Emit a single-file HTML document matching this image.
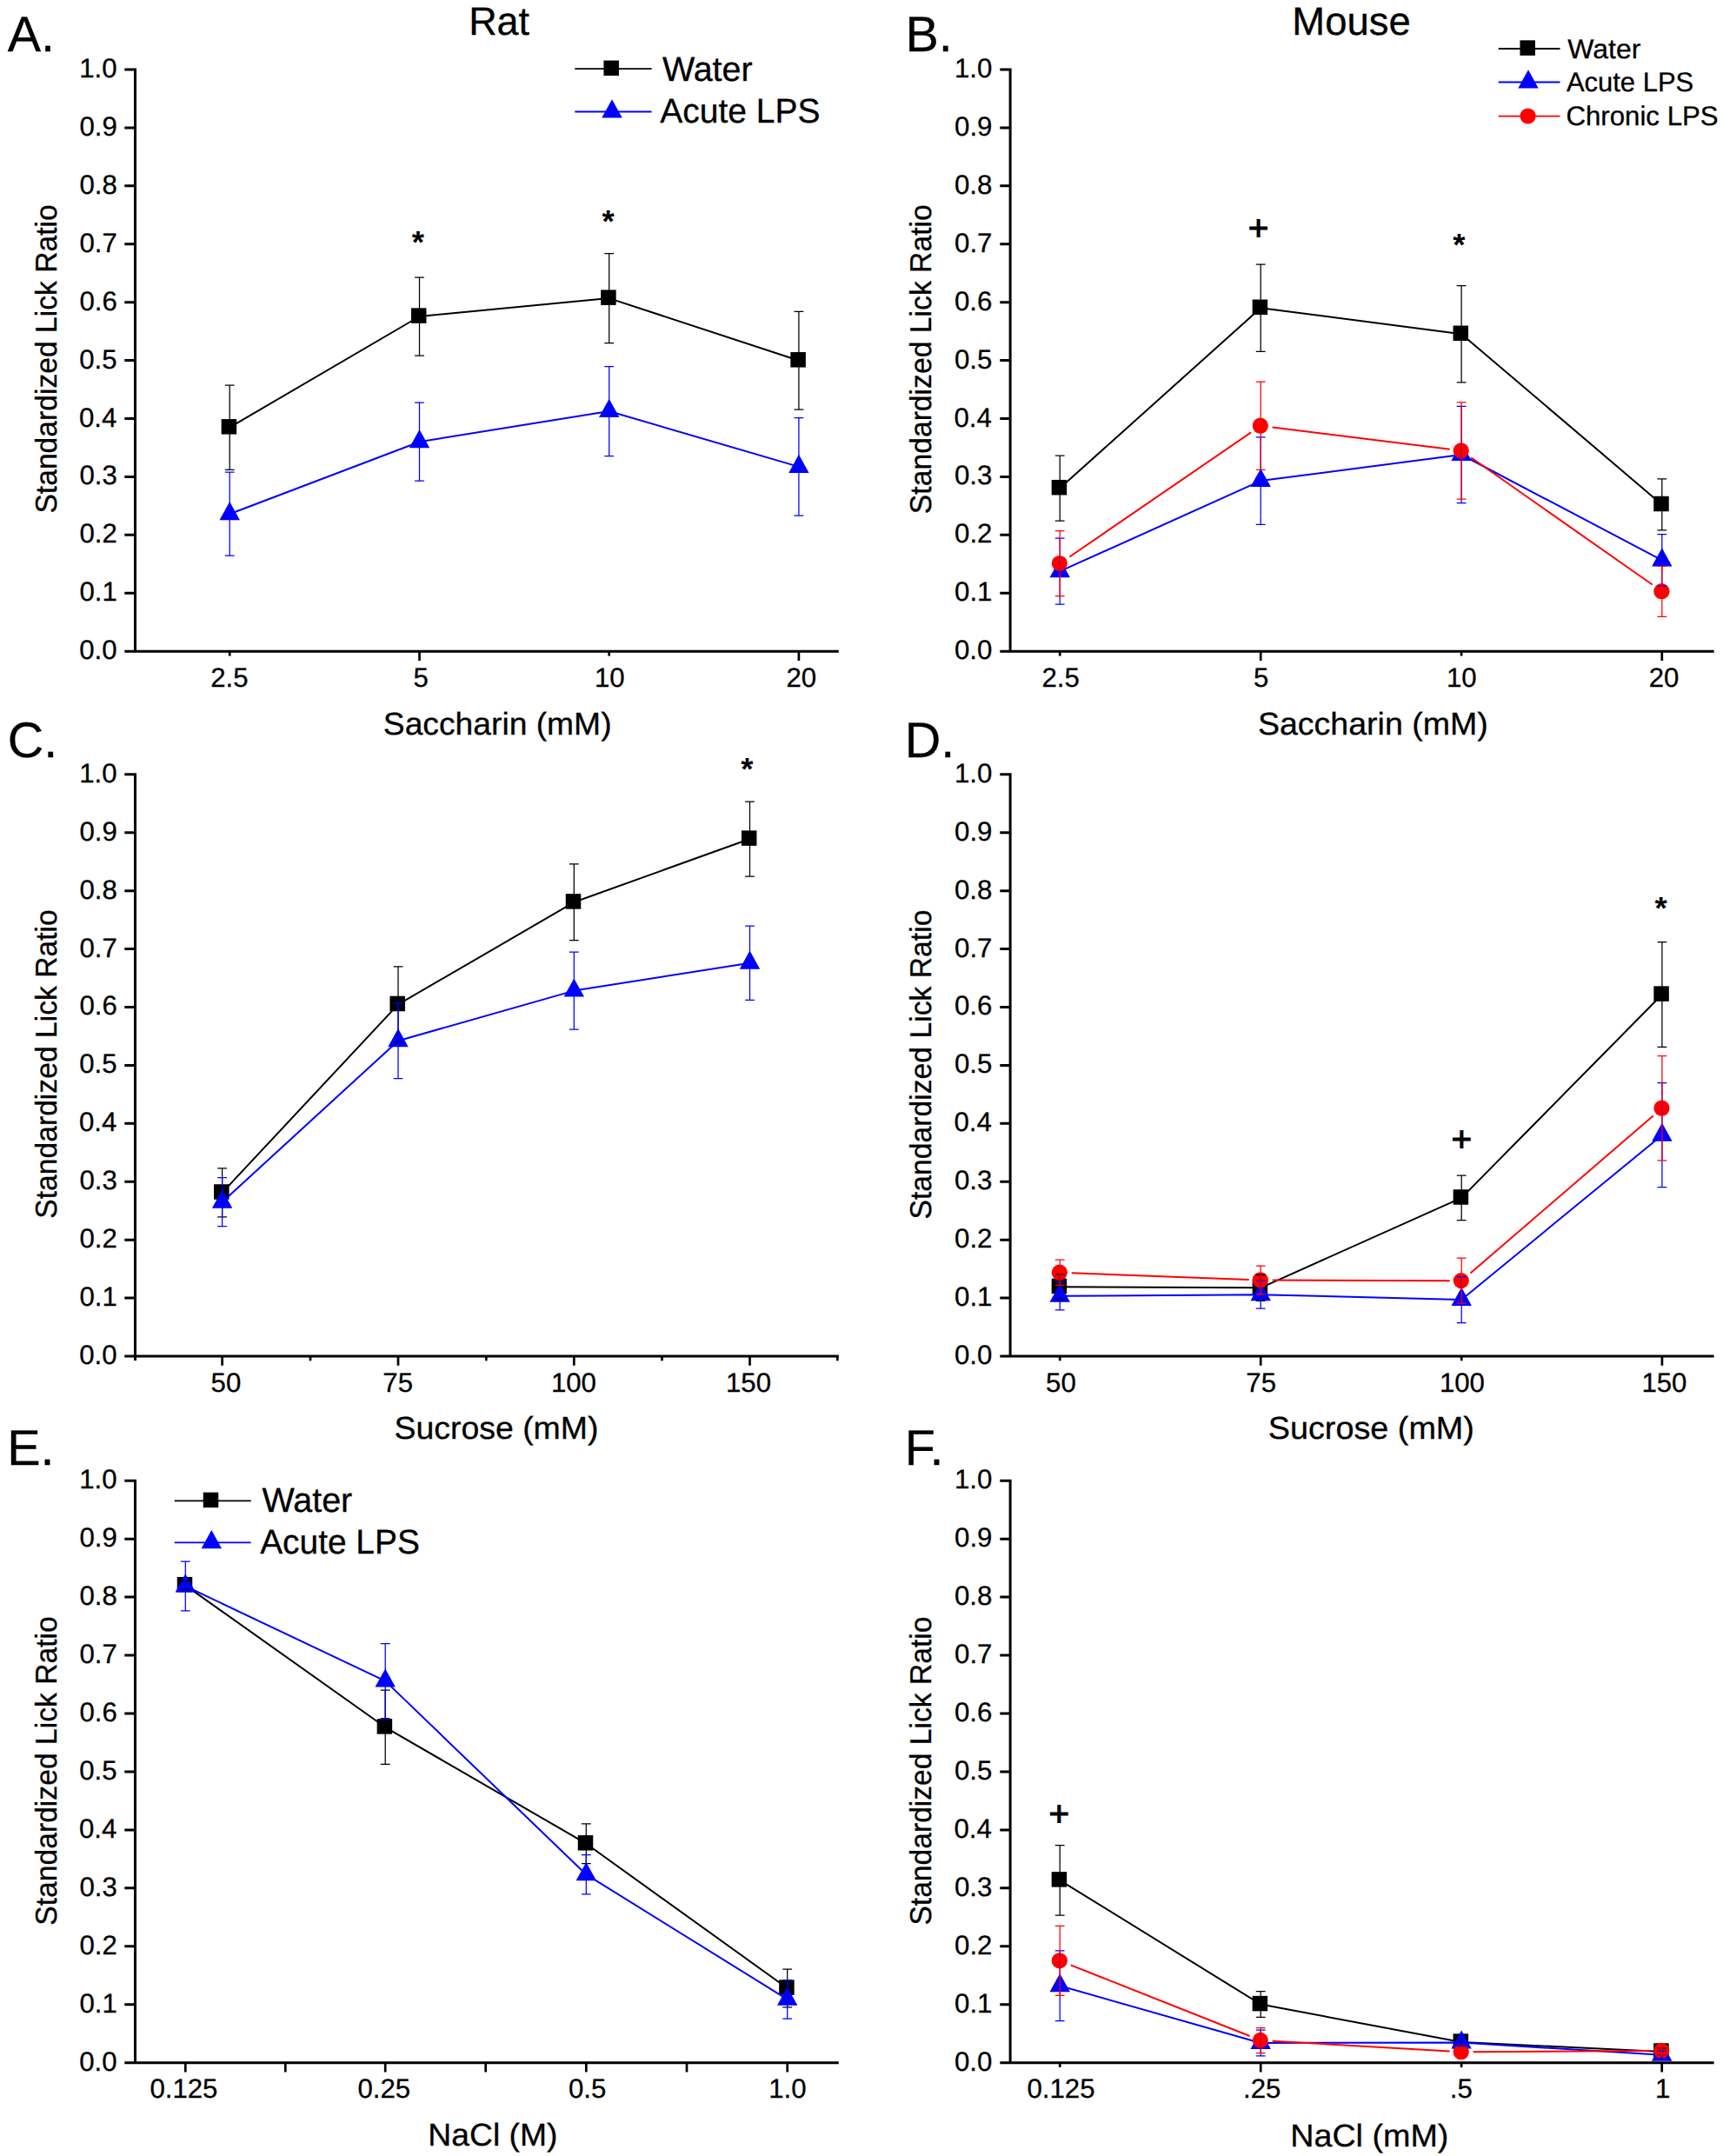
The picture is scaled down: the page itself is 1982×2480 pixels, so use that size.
<!DOCTYPE html>
<html lang="en"><head><meta charset="utf-8"><title>Standardized Lick Ratio figure</title>
<style>html,body{margin:0;padding:0;background:#fff}svg{display:block}text{stroke:#000;stroke-width:.3px}</style></head>
<body>
<svg width="1982" height="2480" viewBox="0 0 1982 2480" font-family='"Liberation Sans", Arial, sans-serif' fill="#000" text-rendering="geometricPrecision">
<rect width="1982" height="2480" fill="#fff"/>
<path d="M155.5 78.5V750.7M143.3 749.2H964.8M143.3 80H155.5M143.3 146.92H155.5M143.3 213.84H155.5M143.3 280.76H155.5M143.3 347.68H155.5M143.3 414.6H155.5M143.3 481.52H155.5M143.3 548.44H155.5M143.3 615.36H155.5M143.3 682.28H155.5" fill="none" stroke="#000" stroke-width="3.0"/>
<path d="M264.2 749.2v5.2M482.5 749.2v10.8M700.7 749.2v5.2M918.9 749.2v10.8" fill="none" stroke="#000" stroke-width="2.7"/>
<text x="91.28" y="89" font-size="31.2">1.0</text>
<text x="91.53" y="155.92" font-size="31.2">0.9</text>
<text x="91.4" y="222.84" font-size="31.2">0.8</text>
<text x="91.53" y="289.76" font-size="31.2">0.7</text>
<text x="91.4" y="356.68" font-size="31.2">0.6</text>
<text x="91.28" y="423.6" font-size="31.2">0.5</text>
<text x="90.9" y="490.52" font-size="31.2">0.4</text>
<text x="91.4" y="557.44" font-size="31.2">0.3</text>
<text x="91.53" y="624.36" font-size="31.2">0.2</text>
<text x="91.53" y="691.28" font-size="31.2">0.1</text>
<text x="91.28" y="758.2" font-size="31.2">0.0</text>
<text x="242.19" y="789.9" font-size="31.2">2.5</text>
<text x="475.46" y="789.9" font-size="31.2">5</text>
<text x="683.96" y="789.9" font-size="31.2">10</text>
<text x="904.5" y="789.9" font-size="31.2">20</text>
<path d="M264.2 491.7L482.5 364L700.7 343.1L918.9 414.7" fill="none" stroke="#000" stroke-width="2.0" stroke-linejoin="round"/>
<rect x="254.65" y="482.05" width="17.5" height="17.5" fill="#000"/>
<rect x="472.95" y="354.35" width="17.5" height="17.5" fill="#000"/>
<rect x="691.15" y="333.45" width="17.5" height="17.5" fill="#000"/>
<rect x="909.35" y="405.05" width="17.5" height="17.5" fill="#000"/>
<path d="M264.2 591.2L482.5 508.2L700.7 473L918.9 536.9" fill="none" stroke="#0000ff" stroke-width="2.0" stroke-linejoin="round"/>
<path d="M264.2 577L275.9 598.2L252.5 598.2Z" fill="#0000ff"/>
<path d="M482.5 494L494.2 515.2L470.8 515.2Z" fill="#0000ff"/>
<path d="M700.7 458.8L712.4 480L689 480Z" fill="#0000ff"/>
<path d="M918.9 522.7L930.6 543.9L907.2 543.9Z" fill="#0000ff"/>
<path d="M264.2 443.1V540.3M258.8 443.1h10.8M258.8 540.3h10.8M482.5 319V409M477.1 319h10.8M477.1 409h10.8M700.7 291.6V394.6M695.3 291.6h10.8M695.3 394.6h10.8M918.9 358.4V471M913.5 358.4h10.8M913.5 471h10.8" fill="none" stroke="#000" stroke-width="1.25"/>
<path d="M264.2 543.2V639.2M258.8 543.2h10.8M258.8 639.2h10.8M482.5 463.2V553.2M477.1 463.2h10.8M477.1 553.2h10.8M700.7 421.5V524.5M695.3 421.5h10.8M695.3 524.5h10.8M918.9 480.7V593.1M913.5 480.7h10.8M913.5 593.1h10.8" fill="none" stroke="#0000ff" stroke-width="1.25"/>
<path d="M1162.1 78.5V750.7M1150.3 749.2H1971.6M1150.3 80H1162.1M1150.3 146.92H1162.1M1150.3 213.84H1162.1M1150.3 280.76H1162.1M1150.3 347.68H1162.1M1150.3 414.6H1162.1M1150.3 481.52H1162.1M1150.3 548.44H1162.1M1150.3 615.36H1162.1M1150.3 682.28H1162.1" fill="none" stroke="#000" stroke-width="3.0"/>
<path d="M1219.2 749.2v5.2M1450.2 749.2v10.8M1681.1 749.2v5.2M1911.8 749.2v10.8" fill="none" stroke="#000" stroke-width="2.7"/>
<text x="1097.88" y="89" font-size="31.2">1.0</text>
<text x="1098.12" y="155.92" font-size="31.2">0.9</text>
<text x="1098" y="222.84" font-size="31.2">0.8</text>
<text x="1098.12" y="289.76" font-size="31.2">0.7</text>
<text x="1098" y="356.68" font-size="31.2">0.6</text>
<text x="1097.88" y="423.6" font-size="31.2">0.5</text>
<text x="1097.5" y="490.52" font-size="31.2">0.4</text>
<text x="1098" y="557.44" font-size="31.2">0.3</text>
<text x="1098.12" y="624.36" font-size="31.2">0.2</text>
<text x="1098.12" y="691.28" font-size="31.2">0.1</text>
<text x="1097.88" y="758.2" font-size="31.2">0.0</text>
<text x="1198.49" y="789.9" font-size="31.2">2.5</text>
<text x="1441.91" y="789.9" font-size="31.2">5</text>
<text x="1663.96" y="789.9" font-size="31.2">10</text>
<text x="1896.7" y="789.9" font-size="31.2">20</text>
<path d="M1219.2 561.6L1450.2 354.2L1681.1 384.2L1911.8 580.4" fill="none" stroke="#000" stroke-width="2.0" stroke-linejoin="round"/>
<rect x="1209.65" y="551.95" width="17.5" height="17.5" fill="#000"/>
<rect x="1440.65" y="344.55" width="17.5" height="17.5" fill="#000"/>
<rect x="1671.55" y="374.55" width="17.5" height="17.5" fill="#000"/>
<rect x="1902.25" y="570.75" width="17.5" height="17.5" fill="#000"/>
<path d="M1219.2 657.2L1450.2 553.1L1681.1 523L1911.8 644.4" fill="none" stroke="#0000ff" stroke-width="2.0" stroke-linejoin="round"/>
<path d="M1219.2 643L1230.9 664.2L1207.5 664.2Z" fill="#0000ff"/>
<path d="M1450.2 538.9L1461.9 560.1L1438.5 560.1Z" fill="#0000ff"/>
<path d="M1681.1 508.8L1692.8 530L1669.4 530Z" fill="#0000ff"/>
<path d="M1911.8 630.2L1923.5 651.4L1900.1 651.4Z" fill="#0000ff"/>
<path d="M1230.34 640.47L1439.06 497.43M1463.6 491.47L1667.7 516.83M1692.15 526.25L1900.75 672.55" fill="none" stroke="#ff0000" stroke-width="2.0"/>
<circle cx="1218.8" cy="648" r="9.1" fill="#ff0000"/>
<circle cx="1449.8" cy="489.7" r="9.1" fill="#ff0000"/>
<circle cx="1680.7" cy="518.4" r="9.1" fill="#ff0000"/>
<circle cx="1911.4" cy="680.2" r="9.1" fill="#ff0000"/>
<path d="M1219.2 524.1V599.1M1213.8 524.1h10.8M1213.8 599.1h10.8M1450.2 304.1V404.3M1444.8 304.1h10.8M1444.8 404.3h10.8M1681.1 328.6V439.8M1675.7 328.6h10.8M1675.7 439.8h10.8M1911.8 550.9V609.9M1906.4 550.9h10.8M1906.4 609.9h10.8" fill="none" stroke="#000" stroke-width="1.25"/>
<path d="M1219.2 619.2V695.2M1213.8 619.2h10.8M1213.8 695.2h10.8M1450.2 502.8V603.4M1444.8 502.8h10.8M1444.8 603.4h10.8M1681.1 467.4V578.6M1675.7 467.4h10.8M1675.7 578.6h10.8M1911.8 614.7V674.1M1906.4 614.7h10.8M1906.4 674.1h10.8" fill="none" stroke="#0000ff" stroke-width="1.25"/>
<path d="M1219.2 610.7V685.5M1213.8 610.7h10.8M1213.8 685.5h10.8M1450.2 439.2V540.4M1444.8 439.2h10.8M1444.8 540.4h10.8M1681.1 462.8V574.2M1675.7 462.8h10.8M1675.7 574.2h10.8M1911.8 651.3V709.3M1906.4 651.3h10.8M1906.4 709.3h10.8" fill="none" stroke="#ff0000" stroke-width="1.25"/>
<path d="M155.5 889.3V1565M143.3 1560H964.8M143.3 890.8H155.5M143.3 957.72H155.5M143.3 1024.64H155.5M143.3 1091.56H155.5M143.3 1158.48H155.5M143.3 1225.4H155.5M143.3 1292.32H155.5M143.3 1359.24H155.5M143.3 1426.16H155.5M143.3 1493.08H155.5" fill="none" stroke="#000" stroke-width="3.0"/>
<path d="M255.6 1560v10.8M458 1560v10.8M660.3 1560v10.8M862.5 1560v10.8M357 1560v5.2M559.3 1560v5.2M761.5 1560v5.2M963.3 1560v5.2" fill="none" stroke="#000" stroke-width="2.7"/>
<text x="91.28" y="899.8" font-size="31.2">1.0</text>
<text x="91.53" y="966.72" font-size="31.2">0.9</text>
<text x="91.4" y="1033.64" font-size="31.2">0.8</text>
<text x="91.53" y="1100.56" font-size="31.2">0.7</text>
<text x="91.4" y="1167.48" font-size="31.2">0.6</text>
<text x="91.28" y="1234.4" font-size="31.2">0.5</text>
<text x="90.9" y="1301.32" font-size="31.2">0.4</text>
<text x="91.4" y="1368.24" font-size="31.2">0.3</text>
<text x="91.53" y="1435.16" font-size="31.2">0.2</text>
<text x="91.53" y="1502.08" font-size="31.2">0.1</text>
<text x="91.28" y="1569" font-size="31.2">0.0</text>
<text x="242.62" y="1600.7" font-size="31.2">50</text>
<text x="440.34" y="1600.7" font-size="31.2">75</text>
<text x="633.88" y="1600.7" font-size="31.2">100</text>
<text x="834.98" y="1600.7" font-size="31.2">150</text>
<path d="M255.6 1371.9L458 1155.4L660.3 1037.8L862.5 965" fill="none" stroke="#000" stroke-width="2.0" stroke-linejoin="round"/>
<rect x="246.05" y="1362.25" width="17.5" height="17.5" fill="#000"/>
<rect x="448.45" y="1145.75" width="17.5" height="17.5" fill="#000"/>
<rect x="650.75" y="1028.15" width="17.5" height="17.5" fill="#000"/>
<rect x="852.95" y="955.35" width="17.5" height="17.5" fill="#000"/>
<path d="M255.6 1382.7L458 1197.2L660.3 1139.6L862.5 1107.7" fill="none" stroke="#0000ff" stroke-width="2.0" stroke-linejoin="round"/>
<path d="M255.6 1368.5L267.3 1389.7L243.9 1389.7Z" fill="#0000ff"/>
<path d="M458 1183L469.7 1204.2L446.3 1204.2Z" fill="#0000ff"/>
<path d="M660.3 1125.4L672 1146.6L648.6 1146.6Z" fill="#0000ff"/>
<path d="M862.5 1093.5L874.2 1114.7L850.8 1114.7Z" fill="#0000ff"/>
<path d="M255.6 1343.9V1399.9M250.2 1343.9h10.8M250.2 1399.9h10.8M458 1111.8V1199M452.6 1111.8h10.8M452.6 1199h10.8M660.3 993.9V1081.7M654.9 993.9h10.8M654.9 1081.7h10.8M862.5 922V1008M857.1 922h10.8M857.1 1008h10.8" fill="none" stroke="#000" stroke-width="1.25"/>
<path d="M255.6 1354.7V1410.7M250.2 1354.7h10.8M250.2 1410.7h10.8M458 1153.8V1240.6M452.6 1153.8h10.8M452.6 1240.6h10.8M660.3 1095.1V1184.1M654.9 1095.1h10.8M654.9 1184.1h10.8M862.5 1065V1150.4M857.1 1065h10.8M857.1 1150.4h10.8" fill="none" stroke="#0000ff" stroke-width="1.25"/>
<path d="M1162.1 889.3V1561.5M1150.3 1560H1971.6M1150.3 890.8H1162.1M1150.3 957.72H1162.1M1150.3 1024.64H1162.1M1150.3 1091.56H1162.1M1150.3 1158.48H1162.1M1150.3 1225.4H1162.1M1150.3 1292.32H1162.1M1150.3 1359.24H1162.1M1150.3 1426.16H1162.1M1150.3 1493.08H1162.1" fill="none" stroke="#000" stroke-width="3.0"/>
<path d="M1219.2 1560v5.2M1450.2 1560v10.8M1681.2 1560v5.2M1911.9 1560v10.8" fill="none" stroke="#000" stroke-width="2.7"/>
<text x="1097.88" y="899.8" font-size="31.2">1.0</text>
<text x="1098.12" y="966.72" font-size="31.2">0.9</text>
<text x="1098" y="1033.64" font-size="31.2">0.8</text>
<text x="1098.12" y="1100.56" font-size="31.2">0.7</text>
<text x="1098" y="1167.48" font-size="31.2">0.6</text>
<text x="1097.88" y="1234.4" font-size="31.2">0.5</text>
<text x="1097.5" y="1301.32" font-size="31.2">0.4</text>
<text x="1098" y="1368.24" font-size="31.2">0.3</text>
<text x="1098.12" y="1435.16" font-size="31.2">0.2</text>
<text x="1098.12" y="1502.08" font-size="31.2">0.1</text>
<text x="1097.88" y="1569" font-size="31.2">0.0</text>
<text x="1203.12" y="1600.7" font-size="31.2">50</text>
<text x="1433.34" y="1600.7" font-size="31.2">75</text>
<text x="1655.88" y="1600.7" font-size="31.2">100</text>
<text x="1888.38" y="1600.7" font-size="31.2">150</text>
<path d="M1219.2 1480.3L1450.2 1481.3L1681.2 1377.9L1911.9 1144" fill="none" stroke="#000" stroke-width="2.0" stroke-linejoin="round"/>
<rect x="1209.65" y="1470.65" width="17.5" height="17.5" fill="#000"/>
<rect x="1440.65" y="1471.65" width="17.5" height="17.5" fill="#000"/>
<rect x="1671.65" y="1368.25" width="17.5" height="17.5" fill="#000"/>
<rect x="1902.35" y="1134.35" width="17.5" height="17.5" fill="#000"/>
<path d="M1219.2 1490.8L1450.2 1489.2L1681.2 1495L1911.9 1305.7" fill="none" stroke="#0000ff" stroke-width="2.0" stroke-linejoin="round"/>
<path d="M1219.2 1476.6L1230.9 1497.8L1207.5 1497.8Z" fill="#0000ff"/>
<path d="M1450.2 1475L1461.9 1496.2L1438.5 1496.2Z" fill="#0000ff"/>
<path d="M1681.2 1480.8L1692.9 1502L1669.5 1502Z" fill="#0000ff"/>
<path d="M1911.9 1291.5L1923.6 1312.7L1900.2 1312.7Z" fill="#0000ff"/>
<path d="M1232.69 1464.3L1436.71 1471.9M1463.7 1472.45L1667.7 1473.15M1691.44 1464.4L1901.66 1283.6" fill="none" stroke="#ff0000" stroke-width="2.0"/>
<circle cx="1218.8" cy="1463.7" r="9.1" fill="#ff0000"/>
<circle cx="1449.8" cy="1472.3" r="9.1" fill="#ff0000"/>
<circle cx="1680.8" cy="1473.1" r="9.1" fill="#ff0000"/>
<circle cx="1911.5" cy="1274.7" r="9.1" fill="#ff0000"/>
<path d="M1219.2 1465.8V1494.8M1213.8 1465.8h10.8M1213.8 1494.8h10.8M1450.2 1466.3V1496.3M1444.8 1466.3h10.8M1444.8 1496.3h10.8M1681.2 1352.2V1403.6M1675.8 1352.2h10.8M1675.8 1403.6h10.8M1911.9 1083.6V1204.4M1906.5 1083.6h10.8M1906.5 1204.4h10.8" fill="none" stroke="#000" stroke-width="1.25"/>
<path d="M1219.2 1474.8V1506.8M1213.8 1474.8h10.8M1213.8 1506.8h10.8M1450.2 1473.2V1505.2M1444.8 1473.2h10.8M1444.8 1505.2h10.8M1681.2 1468.5V1521.5M1675.8 1468.5h10.8M1675.8 1521.5h10.8M1911.9 1245.7V1365.7M1906.5 1245.7h10.8M1906.5 1365.7h10.8" fill="none" stroke="#0000ff" stroke-width="1.25"/>
<path d="M1219.2 1449.2V1478.4M1213.8 1449.2h10.8M1213.8 1478.4h10.8M1450.2 1456.1V1488.7M1444.8 1456.1h10.8M1444.8 1488.7h10.8M1681.2 1447.2V1499.2M1675.8 1447.2h10.8M1675.8 1499.2h10.8M1911.9 1214.7V1334.9M1906.5 1214.7h10.8M1906.5 1334.9h10.8" fill="none" stroke="#ff0000" stroke-width="1.25"/>
<path d="M155.5 1701.7V2374.2M143.3 2372.7H964.8M143.3 1703.2H155.5M143.3 1770.15H155.5M143.3 1837.1H155.5M143.3 1904.05H155.5M143.3 1971H155.5M143.3 2037.95H155.5M143.3 2104.9H155.5M143.3 2171.85H155.5M143.3 2238.8H155.5M143.3 2305.75H155.5" fill="none" stroke="#000" stroke-width="3.0"/>
<path d="M213.3 2372.7v10.8M443.2 2372.7v10.8M674.3 2372.7v10.8M905.7 2372.7v10.8M328.3 2372.7v10.8M558.7 2372.7v10.8M790 2372.7v10.8" fill="none" stroke="#000" stroke-width="2.7"/>
<text x="91.28" y="1712.2" font-size="31.2">1.0</text>
<text x="91.53" y="1779.15" font-size="31.2">0.9</text>
<text x="91.4" y="1846.1" font-size="31.2">0.8</text>
<text x="91.53" y="1913.05" font-size="31.2">0.7</text>
<text x="91.4" y="1980" font-size="31.2">0.6</text>
<text x="91.28" y="2046.95" font-size="31.2">0.5</text>
<text x="90.9" y="2113.9" font-size="31.2">0.4</text>
<text x="91.4" y="2180.85" font-size="31.2">0.3</text>
<text x="91.53" y="2247.8" font-size="31.2">0.2</text>
<text x="91.53" y="2314.75" font-size="31.2">0.1</text>
<text x="91.28" y="2381.7" font-size="31.2">0.0</text>
<text x="172.38" y="2413.4" font-size="31.2">0.125</text>
<text x="411.46" y="2413.4" font-size="31.2">0.25</text>
<text x="653.91" y="2413.4" font-size="31.2">0.5</text>
<text x="884.25" y="2413.4" font-size="31.2">1.0</text>
<path d="M213.3 1823.6L443.2 1986.8L674.3 2120.7L905.7 2287" fill="none" stroke="#000" stroke-width="2.0" stroke-linejoin="round"/>
<rect x="203.75" y="1813.95" width="17.5" height="17.5" fill="#000"/>
<rect x="433.65" y="1977.15" width="17.5" height="17.5" fill="#000"/>
<rect x="664.75" y="2111.05" width="17.5" height="17.5" fill="#000"/>
<rect x="896.15" y="2277.35" width="17.5" height="17.5" fill="#000"/>
<path d="M213.3 1824.5L443.2 1933.6L674.3 2156.2L905.7 2299.8" fill="none" stroke="#0000ff" stroke-width="2.0" stroke-linejoin="round"/>
<path d="M213.3 1810.3L225 1831.5L201.6 1831.5Z" fill="#0000ff"/>
<path d="M443.2 1919.4L454.9 1940.6L431.5 1940.6Z" fill="#0000ff"/>
<path d="M674.3 2142L686 2163.2L662.6 2163.2Z" fill="#0000ff"/>
<path d="M905.7 2285.6L917.4 2306.8L894 2306.8Z" fill="#0000ff"/>
<path d="M213.3 1818.6V1828.6M207.9 1818.6h10.8M207.9 1828.6h10.8M443.2 1944.2V2029.4M437.8 1944.2h10.8M437.8 2029.4h10.8M674.3 2097.9V2143.5M668.9 2097.9h10.8M668.9 2143.5h10.8M905.7 2265.2V2308.8M900.3 2265.2h10.8M900.3 2308.8h10.8" fill="none" stroke="#000" stroke-width="1.25"/>
<path d="M213.3 1796.1V1852.9M207.9 1796.1h10.8M207.9 1852.9h10.8M443.2 1890.6V1976.6M437.8 1890.6h10.8M437.8 1976.6h10.8M674.3 2133.6V2178.8M668.9 2133.6h10.8M668.9 2178.8h10.8M905.7 2277.5V2322.1M900.3 2277.5h10.8M900.3 2322.1h10.8" fill="none" stroke="#0000ff" stroke-width="1.25"/>
<path d="M1162.1 1701.7V2374.2M1150.3 2372.7H1971.6M1150.3 1703.2H1162.1M1150.3 1770.15H1162.1M1150.3 1837.1H1162.1M1150.3 1904.05H1162.1M1150.3 1971H1162.1M1150.3 2037.95H1162.1M1150.3 2104.9H1162.1M1150.3 2171.85H1162.1M1150.3 2238.8H1162.1M1150.3 2305.75H1162.1" fill="none" stroke="#000" stroke-width="3.0"/>
<path d="M1219.2 2372.7v5.2M1450.2 2372.7v10.8M1681.1 2372.7v5.2M1911.7 2372.7v10.8" fill="none" stroke="#000" stroke-width="2.7"/>
<text x="1097.88" y="1712.2" font-size="31.2">1.0</text>
<text x="1098.12" y="1779.15" font-size="31.2">0.9</text>
<text x="1098" y="1846.1" font-size="31.2">0.8</text>
<text x="1098.12" y="1913.05" font-size="31.2">0.7</text>
<text x="1098" y="1980" font-size="31.2">0.6</text>
<text x="1097.88" y="2046.95" font-size="31.2">0.5</text>
<text x="1097.5" y="2113.9" font-size="31.2">0.4</text>
<text x="1098" y="2180.85" font-size="31.2">0.3</text>
<text x="1098.12" y="2247.8" font-size="31.2">0.2</text>
<text x="1098.12" y="2314.75" font-size="31.2">0.1</text>
<text x="1097.88" y="2381.7" font-size="31.2">0.0</text>
<text x="1181.47" y="2413.4" font-size="31.2">0.125</text>
<text x="1430" y="2413.4" font-size="31.2">.25</text>
<text x="1667.79" y="2413.4" font-size="31.2">.5</text>
<text x="1904.08" y="2413.4" font-size="31.2">1</text>
<path d="M1219.2 2162.8L1450.2 2305.5L1681.1 2349L1911.7 2359.9" fill="none" stroke="#000" stroke-width="2.0" stroke-linejoin="round"/>
<rect x="1209.65" y="2153.15" width="17.5" height="17.5" fill="#000"/>
<rect x="1440.65" y="2295.85" width="17.5" height="17.5" fill="#000"/>
<rect x="1671.55" y="2339.35" width="17.5" height="17.5" fill="#000"/>
<rect x="1902.15" y="2350.25" width="17.5" height="17.5" fill="#000"/>
<path d="M1219.2 2284.2L1450.2 2350L1681.1 2349.6L1911.7 2363.7" fill="none" stroke="#0000ff" stroke-width="2.0" stroke-linejoin="round"/>
<path d="M1219.2 2270L1230.9 2291.2L1207.5 2291.2Z" fill="#0000ff"/>
<path d="M1450.2 2335.8L1461.9 2357L1438.5 2357Z" fill="#0000ff"/>
<path d="M1681.1 2335.4L1692.8 2356.6L1669.4 2356.6Z" fill="#0000ff"/>
<path d="M1911.7 2349.5L1923.4 2370.7L1900 2370.7Z" fill="#0000ff"/>
<path d="M1231.75 2260.38L1437.65 2342.02M1463.68 2347.78L1667.62 2359.52M1694.6 2360.22L1898.2 2359.08" fill="none" stroke="#ff0000" stroke-width="2.0"/>
<circle cx="1218.8" cy="2255.3" r="9.1" fill="#ff0000"/>
<circle cx="1449.8" cy="2346.9" r="9.1" fill="#ff0000"/>
<circle cx="1680.7" cy="2360.2" r="9.1" fill="#ff0000"/>
<circle cx="1911.3" cy="2358.9" r="9.1" fill="#ff0000"/>
<path d="M1219.2 2122.6V2203M1213.8 2122.6h10.8M1213.8 2203h10.8M1450.2 2290.7V2320.3M1444.8 2290.7h10.8M1444.8 2320.3h10.8M1681.1 2345V2353M1675.7 2345h10.8M1675.7 2353h10.8M1911.7 2355.9V2363.9M1906.3 2355.9h10.8M1906.3 2363.9h10.8" fill="none" stroke="#000" stroke-width="1.25"/>
<path d="M1219.2 2243.8V2324.6M1213.8 2243.8h10.8M1213.8 2324.6h10.8M1450.2 2335.1V2364.9M1444.8 2335.1h10.8M1444.8 2364.9h10.8M1681.1 2345.6V2353.6M1675.7 2345.6h10.8M1675.7 2353.6h10.8M1911.7 2359.2V2368.2M1906.3 2359.2h10.8M1906.3 2368.2h10.8" fill="none" stroke="#0000ff" stroke-width="1.25"/>
<path d="M1219.2 2215.4V2295.4M1213.8 2215.4h10.8M1213.8 2295.4h10.8M1450.2 2332.5V2361.5M1444.8 2332.5h10.8M1444.8 2361.5h10.8M1681.1 2357.3V2363.3M1675.7 2357.3h10.8M1675.7 2363.3h10.8M1911.7 2354V2364M1906.3 2354h10.8M1906.3 2364h10.8" fill="none" stroke="#ff0000" stroke-width="1.25"/>
<text transform="translate(64.6 590.58) rotate(-90)" font-size="34.6" textLength="355.27" lengthAdjust="spacingAndGlyphs">Standardized Lick Ratio</text>
<text transform="translate(1071.1 591.18) rotate(-90)" font-size="34.6" textLength="355.98" lengthAdjust="spacingAndGlyphs">Standardized Lick Ratio</text>
<text transform="translate(64.6 1401.78) rotate(-90)" font-size="34.6" textLength="355.57" lengthAdjust="spacingAndGlyphs">Standardized Lick Ratio</text>
<text transform="translate(1071.1 1402.58) rotate(-90)" font-size="34.6" textLength="355.98" lengthAdjust="spacingAndGlyphs">Standardized Lick Ratio</text>
<text transform="translate(64.6 2214.78) rotate(-90)" font-size="34.6" textLength="355.57" lengthAdjust="spacingAndGlyphs">Standardized Lick Ratio</text>
<text transform="translate(1071.1 2214.58) rotate(-90)" font-size="34.6" textLength="354.97" lengthAdjust="spacingAndGlyphs">Standardized Lick Ratio</text>
<text x="440.84" y="845" font-size="36.4" textLength="262.7" lengthAdjust="spacingAndGlyphs">Saccharin (mM)</text>
<text x="1446.92" y="845" font-size="36.4" textLength="264.83" lengthAdjust="spacingAndGlyphs">Saccharin (mM)</text>
<text x="453.53" y="1655.2" font-size="36.4" textLength="234.89" lengthAdjust="spacingAndGlyphs">Sucrose (mM)</text>
<text x="1458.81" y="1655.2" font-size="36.4" textLength="237.12" lengthAdjust="spacingAndGlyphs">Sucrose (mM)</text>
<text x="492.33" y="2468.2" font-size="36.4" textLength="149.06" lengthAdjust="spacingAndGlyphs">NaCl (M)</text>
<text x="1484.19" y="2468.6" font-size="36.4" textLength="182.18" lengthAdjust="spacingAndGlyphs">NaCl (mM)</text>
<text x="8.68" y="58.8" font-size="57.5">A.</text>
<text x="1041.45" y="58.8" font-size="57.5">B.</text>
<text x="8.72" y="870.6" font-size="57.5">C.</text>
<text x="1040.65" y="870.6" font-size="57.5">D.</text>
<text x="8.25" y="1685" font-size="57.5">E.</text>
<text x="1040.65" y="1684.8" font-size="57.5">F.</text>
<text x="539.2" y="40.2" font-size="45.5" textLength="69.9" lengthAdjust="spacingAndGlyphs">Rat</text>
<text x="1486.35" y="40.2" font-size="45.5" textLength="136.41" lengthAdjust="spacingAndGlyphs">Mouse</text>
<path d="M661.3 79.2H749.6" stroke="#000" stroke-width="1.8" fill="none"/>
<rect x="694.45" y="69.55" width="17.5" height="17.5" fill="#000"/>
<text x="761.88" y="92.7" font-size="39.5" textLength="103.76" lengthAdjust="spacingAndGlyphs">Water</text>
<path d="M661.3 128.5H749.6" stroke="#0000ff" stroke-width="1.8" fill="none"/>
<path d="M704 114.3L715.7 135.5L692.3 135.5Z" fill="#0000ff"/>
<text x="759.28" y="141.4" font-size="39.5" textLength="184.29" lengthAdjust="spacingAndGlyphs">Acute LPS</text>
<path d="M200.8 1726.3H288.7" stroke="#000" stroke-width="1.8" fill="none"/>
<rect x="233.75" y="1716.65" width="17.5" height="17.5" fill="#000"/>
<text x="301.48" y="1739" font-size="39.5" textLength="103.76" lengthAdjust="spacingAndGlyphs">Water</text>
<path d="M200.8 1774.3H288.7" stroke="#0000ff" stroke-width="1.8" fill="none"/>
<path d="M243.3 1760.1L255 1781.3L231.6 1781.3Z" fill="#0000ff"/>
<text x="299.18" y="1787.3" font-size="39.5" textLength="183.69" lengthAdjust="spacingAndGlyphs">Acute LPS</text>
<path d="M1723.7 56H1794.5" stroke="#000" stroke-width="1.8" fill="none"/>
<rect x="1748.45" y="46.35" width="17.5" height="17.5" fill="#000"/>
<text x="1803.37" y="66.6" font-size="31.3" textLength="84" lengthAdjust="spacingAndGlyphs">Water</text>
<path d="M1723.7 94.5H1794.5" stroke="#0000ff" stroke-width="1.8" fill="none"/>
<path d="M1758 80.3L1769.7 101.5L1746.3 101.5Z" fill="#0000ff"/>
<text x="1801.88" y="104.5" font-size="31.3" textLength="146.32" lengthAdjust="spacingAndGlyphs">Acute LPS</text>
<path d="M1723.7 133.6H1794.5" stroke="#ff0000" stroke-width="1.8" fill="none"/>
<circle cx="1757.6" cy="133.5" r="9.1" fill="#ff0000"/>
<text x="1801.48" y="143.7" font-size="31.3" textLength="175.15" lengthAdjust="spacingAndGlyphs">Chronic LPS</text>
<text x="473.68" y="290.61" font-size="36.5" font-weight="bold" style="stroke-width:0">*</text>
<text x="692.38" y="267.01" font-size="36.5" font-weight="bold" style="stroke-width:0">*</text>
<text x="1435.84" y="276.24" font-size="40.5" style="stroke-width:1.1px">+</text>
<text x="1671.28" y="293.81" font-size="36.5" font-weight="bold" style="stroke-width:0">*</text>
<text x="852.17" y="896.61" font-size="36.5" font-weight="bold" style="stroke-width:0">*</text>
<text x="1669.39" y="1324.34" font-size="40.5" style="stroke-width:1.1px">+</text>
<text x="1903.47" y="1056.51" font-size="36.5" font-weight="bold" style="stroke-width:0">*</text>
<text x="1206.49" y="2099.84" font-size="40.5" style="stroke-width:1.1px">+</text>
</svg>
</body></html>
